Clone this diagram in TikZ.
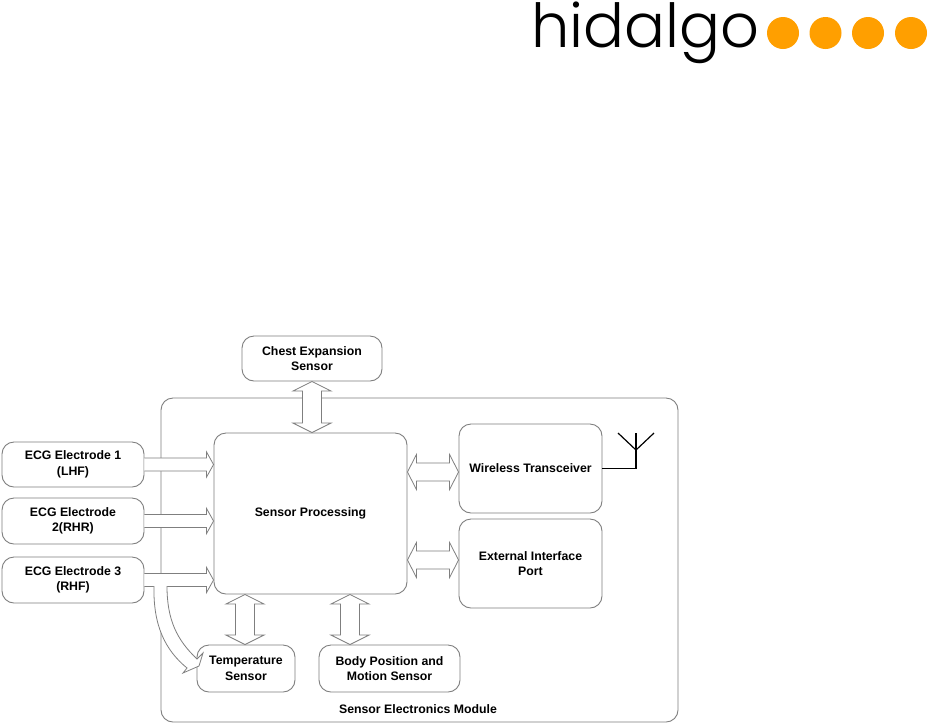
\documentclass[tikz,border=0pt]{standalone}
\usepackage{fontspec}
\usepackage{graphicx}
\setmainfont{Liberation Sans}
\newfontfamily\logofont{Poppins}[UprightFont=* Light]
\usetikzlibrary{calc}
\definecolor{lineg}{HTML}{7F7F7F}
\definecolor{logoor}{HTML}{FF9F00}
\tikzset{
  blockbox/.style={draw=lineg,line width=0.9pt,rounded corners=12pt,fill=white,inner sep=0pt,align=center,font=\fontsize{12.3}{15.6}\selectfont\bfseries,text=black},
  fatarrow/.style={draw=lineg,line width=0.8pt,fill=white,line join=miter},
  dot/.style={circle,fill=logoor,minimum size=32pt,inner sep=0pt},
  antenna/.style={draw=black,line width=1.2pt}
}
% single horizontal block arrow
\newcommand\fatS[2]{\path[fatarrow] let \p1=(#1),\p2=(#2) in
  (\x1,\y1+6.5pt) -- (\x2-7pt,\y1+6.5pt) -- (\x2-7pt,\y1+12.5pt) -- (\x2,\y1) --
  (\x2-7pt,\y1-12.5pt) -- (\x2-7pt,\y1-6.5pt) -- (\x1,\y1-6.5pt);}
% double horizontal block arrow
\newcommand\fatH[2]{\path[fatarrow] let \p1=(#1),\p2=(#2) in
  (\x1,\y1) -- (\x1+9pt,\y1+17.5pt) -- (\x1+9pt,\y1+9pt) -- (\x2-9pt,\y1+9pt) -- (\x2-9pt,\y1+17.5pt) -- (\x2,\y1) --
  (\x2-9pt,\y1-17.5pt) -- (\x2-9pt,\y1-9pt) -- (\x1+9pt,\y1-9pt) -- (\x1+9pt,\y1-17.5pt) -- cycle;}
% double vertical block arrow
\newcommand\fatV[2]{\path[fatarrow] let \p1=(#1),\p2=(#2) in
  (\x1,\y1) -- (\x1+19pt,\y1-9.5pt) -- (\x1+9.5pt,\y1-9.5pt) -- (\x1+9.5pt,\y2+9.5pt) -- (\x1+19pt,\y2+9.5pt) -- (\x1,\y2) --
  (\x1-19pt,\y2+9.5pt) -- (\x1-9.5pt,\y2+9.5pt) -- (\x1-9.5pt,\y1-9.5pt) -- (\x1-19pt,\y1-9.5pt) -- cycle;}
\begin{document}
\begin{tikzpicture}[x=1pt,y=-1pt]
\useasboundingbox (0,0) rectangle (931,724);
\fill[white] (0,0) rectangle (931,724);
% logo
\node[inner sep=0pt,anchor=west] (logo) at (531,32.5) {\resizebox{228pt}{!}{\logofont hidalgo}};
\node[dot] (d1) at (783,33) {};
\node[dot] (d2) at (825.5,33) {};
\node[dot] (d3) at (868,33) {};
\node[dot] (d4) at (911,33) {};
% module frame
\draw[draw=lineg,line width=0.9pt,rounded corners=12pt] (161,398) rectangle (678,722);
\node[inner sep=0pt,font=\fontsize{12.3}{15.6}\selectfont\bfseries] (modlabel) at (418,709) {Sensor Electronics Module};
% blocks
\node[blockbox,minimum width=140pt,minimum height=45pt] (chest) at (312,358.5) {Chest Expansion\\Sensor};
\node[blockbox,minimum width=142pt,minimum height=45pt] (ecg1) at (73,464.5) {ECG Electrode 1\\(LHF)};
\node[blockbox,minimum width=142pt,minimum height=46pt] (ecg2) at (73,521) {ECG Electrode\\2(RHR)};
\node[blockbox,minimum width=142pt,minimum height=46pt] (ecg3) at (73,580) {ECG Electrode 3\\(RHF)};
\node[blockbox,minimum width=193pt,minimum height=161pt] (proc) at (310.5,513.5) {Sensor Processing};
\node[blockbox,minimum width=143pt,minimum height=89pt] (wire) at (530.5,468.5) {Wireless Transceiver};
\node[blockbox,minimum width=143pt,minimum height=89pt] (ext) at (530.5,563.5) {External Interface\\Port};
\node[blockbox,minimum width=98pt,minimum height=47pt] (temp) at (246,668.5) {Temperature\\Sensor};
\node[blockbox,minimum width=141pt,minimum height=47pt] (body) at (389.5,668.5) {Body Position and\\Motion Sensor};
% block arrows
\fatS{ecg1.east}{ecg1.east -| proc.west}
\fatS{ecg2.east}{ecg2.east -| proc.west}
\fatS{ecg3.east}{ecg3.east -| proc.west}
\fatV{chest.south}{chest.south |- proc.north}
\fatV{[xshift=-1pt]temp.north |- proc.south}{[xshift=-1pt]temp.north}
\coordinate (bodyarrow) at ($(body.north)+(-39.5,0)$);
\fatV{bodyarrow |- proc.south}{bodyarrow}
\coordinate (wirearrow) at ($(wire.west)+(0,3.5)$);
\fatH{wirearrow -| proc.east}{wirearrow}
\coordinate (extarrow) at ($(ext.west)+(0,-3.5)$);
\fatH{extarrow -| proc.east}{extarrow}
% curved arrow from electrode 3 to temperature sensor
\coordinate (ca) at (154,586);
\coordinate (cb) at (167,586);
\coordinate (ctip) at (199,666);
\draw[fatarrow] (ca) .. controls (153,625) and (165,650) .. (187,668) -- (183,673) -- (ctip) -- (203,653) -- (197,659)
  .. controls (177,640) and (167,620) .. (cb);
% antenna
\coordinate (anTop) at (636,433);
\coordinate (anJoint) at (636,450);
\coordinate (anL) at (618,433);
\coordinate (anR) at (654,433);
\draw[antenna] (wire.east) -| (anTop);
\draw[antenna] (anL) -- (anJoint) -- (anR);
\end{tikzpicture}
\end{document}
